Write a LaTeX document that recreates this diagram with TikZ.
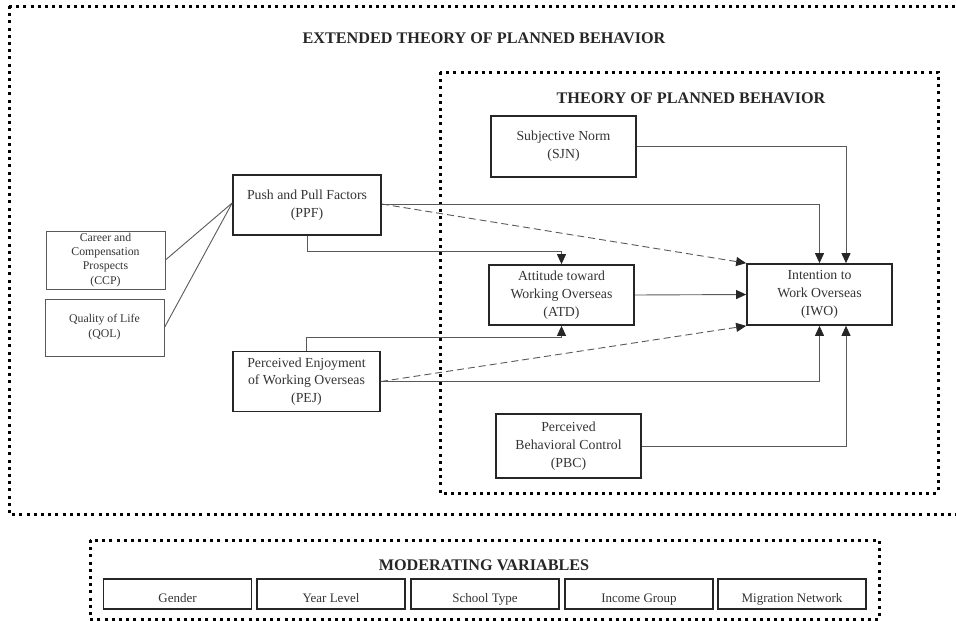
\documentclass[tikz,border=0pt]{standalone}
\usepackage{fontspec}
\setmainfont{Liberation Serif}
\usetikzlibrary{arrows.meta,calc}
\tikzset{
  box/.style={draw=black!85, line width=1.7pt, align=center, inner sep=1pt,
    font=\fontsize{13.8}{17.8}\selectfont, text=black!80},
  thinbox/.style={draw=black!65, line width=0.9pt, align=center, inner sep=0.5pt,
    font=\fontsize{11.8}{14.2}\selectfont, text=black!80},
  modbox/.style={draw=black!85, line width=1.7pt, align=center, inner sep=1pt,
    minimum width=148, minimum height=30, text height=16pt, text depth=0pt,
    font=\fontsize{13}{14}\selectfont, text=black!80},
  dotbox/.style={draw=black, line width=3pt, dash pattern=on 3pt off 4.2pt},
  conn/.style={draw=black!65, line width=0.9pt},
  arr/.style={conn, -{Triangle[length=10pt,width=9pt,fill=black!85,color=black!85]}},
  darr/.style={arr, dash pattern=on 7pt off 4pt},
  ttl/.style={font=\fontsize{16.2}{18}\bfseries\selectfont, text=black!85}
}
\begin{document}
\begin{tikzpicture}[x=1pt,y=-1pt]
\useasboundingbox (0,0) rectangle (956,621);
% outer dotted boxes
\draw[dotbox] (9,6) -- (960,6) (9,6) -- (9,514) -- (960,514);
\draw[dotbox] (440,72) rectangle (938,493);
\draw[dotbox] (90,540) rectangle (879,619);
\node[ttl] (t1) at (484,38) {EXTENDED THEORY OF PLANNED BEHAVIOR};
\node[ttl] (t2) at (691,98) {THEORY OF PLANNED BEHAVIOR};
\node[ttl] (t3) at (484,565) {MODERATING VARIABLES};
% nodes
\node[box, minimum width=148, minimum height=60] (PPF) at (307,205) {Push and Pull Factors\\(PPF)};
\node[thinbox, minimum width=119, minimum height=58] (CCP) at (105.5,260) {Career and\\Compensation\\Prospects\\(CCP)};
\node[thinbox, minimum width=119, minimum height=57, font=\fontsize{11.8}{15}\selectfont] (QOL) at (104.5,327.5) {Quality of Life\\(QOL)};
\node[box, minimum width=147, minimum height=60] (PEJ) at (306.5,381.5) {Perceived Enjoyment\\of Working Overseas\\(PEJ)};
\node[box, minimum width=145, minimum height=61] (SJN) at (563.5,146.5) {Subjective Norm\\(SJN)};
\node[box, minimum width=145, minimum height=60] (ATD) at (561.5,295) {Attitude toward\\Working Overseas\\(ATD)};
\node[box, minimum width=145, minimum height=61] (IWO) at (819.5,294.5) {Intention to\\Work Overseas\\(IWO)};
\node[box, minimum width=145, minimum height=64] (PBC) at (568.5,446) {Perceived\\Behavioral Control\\(PBC)};
% moderating
\node[modbox] (G) at (177.5,594) {Gender};
\node[modbox] (Y) at (331,594) {Year Level};
\node[modbox] (S) at (485,594) {School Type};
\node[modbox] (I) at (639,594) {Income Group};
\node[modbox] (M) at (792,594) {Migration Network};
% connectors
\draw[conn] (CCP.east) -- ([yshift=2]PPF.west);
\draw[conn] (QOL.east) -- ([yshift=2]PPF.west);
\draw[arr] (SJN.east) -| ([xshift=26.5]IWO.north);
\draw[arr] ([yshift=1]PPF.east) -| (IWO.north);
\draw[darr] ([yshift=1]PPF.east) -- (IWO.north west);
\draw[arr] (PPF.south) -- ++(0,16) -| (ATD.north);
\draw[arr] (PEJ.north) -- ++(0,-13.5) -| (ATD.south);
\draw[arr] (PEJ.east) -| (IWO.south);
\draw[darr] (PEJ.east) -- (IWO.south west);
\draw[arr] (ATD.east) -- (IWO.west);
\draw[arr] (PBC.east) -| ([xshift=26.5]IWO.south);
\end{tikzpicture}
\end{document}
